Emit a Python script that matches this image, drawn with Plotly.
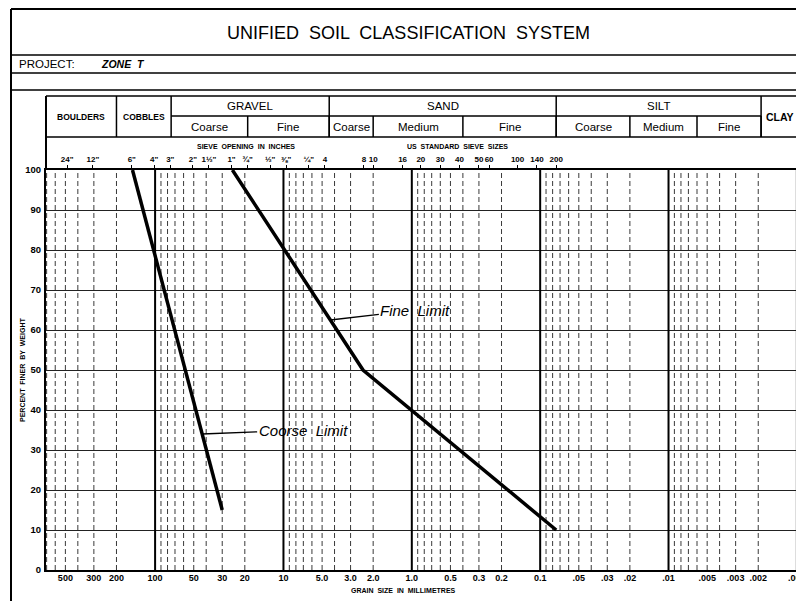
import numpy as np
import plotly.graph_objects as go

# ---------------- data ----------------
coarse_mm = [150, 30]
coarse_pct = [100, 15]
fine_mm = [25, 2.4, 0.075]
fine_pct = [100, 50, 10]

grain_tick_mm = [500, 300, 200, 100, 50, 30, 20, 10, 5, 3, 2, 1, 0.5, 0.3, 0.2, 0.1,
                 0.05, 0.03, 0.02, 0.01, 0.005, 0.003, 0.002, 0.001]
grain_tick_text = ["500", "300", "200", "100", "50", "30", "20", "10", "5.0", "3.0", "2.0", "1.0",
                   "0.5", "0.3", "0.2", "0.1", ".05", ".03", ".02", ".01", ".005", ".003", ".002", ".001"]

sieve_mm = [485, 305, 152, 101.6, 76.2, 50.8, 38.1, 25.4, 19.05, 12.7, 9.525, 6.35,
            4.75, 2.36, 2.0, 1.18, 0.85, 0.6, 0.425, 0.3, 0.25, 0.15, 0.106, 0.075]
sieve_text = ['24"', '12"', '6"', '4"', '3"', '2"', '1½"', '1"', '¾"', '½"', '⅜"', '¼"',
              '4', '8', '10', '16', '20', '30', '40', '50', '60', '100', '140', '200']

pct_ticks = [0, 10, 20, 30, 40, 50, 60, 70, 80, 90, 100]

x_min_mm, x_max_mm = 0.00098, 708.0

# classification table: (label, coarse-end mm, fine-end mm)
main_classes = [("BOULDERS", x_max_mm, 200), ("COBBLES", 200, 75), ("GRAVEL", 75, 4.4),
                ("SAND", 4.4, 0.075), ("SILT", 0.075, 0.0019), ("CLAY", 0.0019, x_min_mm)]
sub_classes = [("Coarse", 75, 19), ("Fine", 19, 4.4),
               ("Coarse", 4.4, 2.0), ("Medium", 2.0, 0.4), ("Fine", 0.4, 0.075),
               ("Coarse", 0.075, 0.02), ("Medium", 0.02, 0.006), ("Fine", 0.006, 0.0019)]
two_row_classes = ["GRAVEL", "SAND", "SILT"]

# ---------------- layout geometry ----------------
# the page body adds an 8px offset; the figure is sized so the plot area
# lands at screen x 46..798, y 170..570
W, H = 796, 593
ML, MR, MT, MB = 38, 6, 162, 31
PX0, PY1, PW, PH = 46, 570, 752, 400


def py(p):  # screen row -> paper y
    return (PY1 - p) / PH


def px(p):  # screen column -> paper x
    return (p - PX0) / PW


FONT = "Liberation Sans"
fig = go.Figure()

fig.add_trace(go.Scatter(x=coarse_mm, y=coarse_pct, mode="lines",
                         line=dict(color="black", width=3.5), hoverinfo="skip", showlegend=False))
fig.add_trace(go.Scatter(x=fine_mm, y=fine_pct, mode="lines",
                         line=dict(color="black", width=3.5), hoverinfo="skip", showlegend=False))
# anchor trace for the top (sieve) axis
fig.add_trace(go.Scatter(x=fine_mm, y=fine_pct, mode="lines", xaxis="x2", opacity=0,
                         line=dict(width=0), hoverinfo="skip", showlegend=False))

shapes = []
# vertical grid lines
for e in range(-3, 3):
    for m in range(1, 10):
        v = m * 10.0 ** e
        if v <= x_min_mm * 1.01 or v >= x_max_mm:
            continue
        if m == 1:
            shapes.append(dict(type="line", xref="x", yref="paper", x0=v, x1=v, y0=0, y1=1,
                               line=dict(color="black", width=2), layer="above"))
        else:
            shapes.append(dict(type="line", xref="x", yref="paper", x0=v, x1=v, y0=0, y1=1,
                               line=dict(color="#3a3a3a", width=1, dash="5px,3px"), layer="below"))

# outer frame
fl = dict(color="black", width=1.5)
shapes += [
    dict(type="line", xref="paper", yref="paper", x0=px(11), x1=px(812), y0=py(9), y1=py(9),
         line=dict(color="black", width=2)),
    dict(type="line", xref="paper", yref="paper", x0=px(11), x1=px(11), y0=py(9), y1=py(610),
         line=dict(color="black", width=2)),
    dict(type="line", xref="paper", yref="paper", x0=px(11), x1=px(812), y0=py(55), y1=py(55), line=fl),
    dict(type="line", xref="paper", yref="paper", x0=px(11), x1=px(812), y0=py(73), y1=py(73), line=fl),
    dict(type="line", xref="paper", yref="paper", x0=px(11), x1=px(812), y0=py(90), y1=py(90), line=fl),
    # table box
    dict(type="line", xref="paper", yref="paper", x0=0, x1=1, y0=py(96), y1=py(96), line=fl),
    dict(type="line", xref="paper", yref="paper", x0=0, x1=1, y0=py(137), y1=py(137), line=fl),
    dict(type="line", xref="paper", yref="paper", x0=0, x1=0, y0=1, y1=py(96), line=dict(color="black", width=2)),
    dict(type="line", xref="paper", yref="paper", x0=1, x1=1, y0=1, y1=py(96), line=dict(color="black", width=2)),
]
# table dividers
for name, a, b in main_classes:
    if b > x_min_mm:
        shapes.append(dict(type="line", xref="x", yref="paper", x0=b, x1=b, y0=py(137), y1=py(96), line=fl))
    if name in two_row_classes:
        shapes.append(dict(type="line", xref="x", yref="paper", x0=a, x1=b, y0=py(116), y1=py(116), line=fl))
for name, a, b in sub_classes:
    shapes.append(dict(type="line", xref="x", yref="paper", x0=b, x1=b, y0=py(137), y1=py(116), line=fl))


def note(x, y, text, size, xref="paper", yref="paper", xanchor="center", **fkw):
    return dict(x=x, y=y, xref=xref, yref=yref, text=text, showarrow=False,
                xanchor=xanchor, yanchor="middle",
                font=dict(family=FONT, size=size, color="black", **fkw))


annotations = []
for name, a, b in main_classes:
    xc = (np.log10(a) + np.log10(b)) / 2
    if name in two_row_classes:
        annotations.append(note(xc, py(106), name, 11.5, xref="x"))
    else:
        size = 8.5 if name in ("BOULDERS", "COBBLES") else 10.5
        annotations.append(note(xc, py(117), name, size, xref="x", weight="bold"))
for name, a, b in sub_classes:
    xc = (np.log10(a) + np.log10(b)) / 2
    annotations.append(note(xc, py(127), name, 11.5, xref="x"))

annotations += [
    note(px(408), py(33), "UNIFIED  SOIL  CLASSIFICATION  SYSTEM", 18),
    note(px(17), py(64), "PROJECT:", 11.5, xanchor="left"),
    note(px(99), py(64), "ZONE  T", 10.5, xanchor="left", style="italic", weight="bold"),
    note(px(246), py(147), "SIEVE  OPENING  IN  INCHES", 7, weight="bold"),
    note(px(457), py(147), "US  STANDARD  SIEVE  SIZES", 7, weight="bold"),
    note(px(403), py(590), "GRAIN  SIZE  IN  MILLIMETRES", 7, weight="bold"),
    dict(note(px(22), 0.5, "PERCENT  FINER  BY  WEIGHT", 7, weight="bold"), textangle=-90),
    dict(x=np.log10(43), y=34, xref="x", yref="y", text="Coorse  Limit", showarrow=True,
         arrowhead=0, arrowwidth=1.3, arrowcolor="black", ax=101, ay=-4, standoff=0,
         font=dict(family=FONT, size=15, color="black", style="italic")),
    dict(x=np.log10(4.31), y=62.5, xref="x", yref="y", text="Fine  Limit", showarrow=True,
         arrowhead=0, arrowwidth=1.3, arrowcolor="black", ax=85, ay=-10, standoff=0,
         font=dict(family=FONT, size=15, color="black", style="italic")),
]

xr = [np.log10(x_max_mm), np.log10(x_min_mm)]
fig.update_layout(
    width=W, height=H, autosize=False,
    margin=dict(l=ML, r=MR, t=MT, b=MB, pad=0, autoexpand=False),
    paper_bgcolor="white", plot_bgcolor="white",
    showlegend=False,
    xaxis=dict(type="log", range=xr, tickvals=grain_tick_mm, ticktext=grain_tick_text,
               showgrid=False, zeroline=False, ticks="", showline=True, mirror=True,
               linecolor="black", linewidth=2, tickangle=0, automargin=False,
               ticklabelstandoff=-2, ticklabeloverflow="allow",
               tickfont=dict(family=FONT, size=9, color="black", weight="bold")),
    xaxis2=dict(type="log", range=xr, overlaying="x", side="top", anchor="y",
                tickvals=sieve_mm, ticktext=sieve_text, ticks="outside", ticklen=4,
                tickcolor="black", tickwidth=1, showgrid=False, zeroline=False, showline=False,
                tickangle=0, automargin=False,
                tickfont=dict(family=FONT, size=8, color="black", weight="bold")),
    yaxis=dict(range=[0, 100], tickvals=pct_ticks, showgrid=True, gridcolor="#222",
               gridwidth=1, zeroline=False, ticks="", showline=True, mirror=True,
               linecolor="black", linewidth=2, automargin=False, ticklabelstandoff=1,
               tickfont=dict(family=FONT, size=9.5, color="black", weight="bold")),
    shapes=shapes,
    annotations=annotations,
)

fig.write_html("out.html")
